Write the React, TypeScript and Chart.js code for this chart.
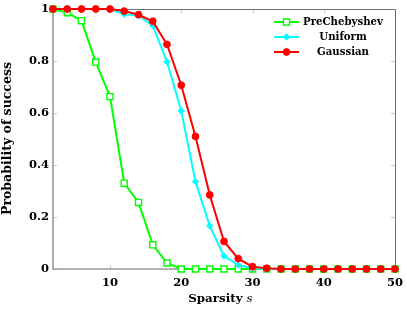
import React, { useEffect, useRef } from "react";
import { Chart, registerables } from "chart.js";

Chart.register(...registerables);

const sparsity = [2, 4, 6, 8, 10, 12, 14, 16, 18, 20, 22, 24, 26, 28, 30, 32, 34, 36, 38, 40, 42, 44, 46, 48, 50];
const preChebyshev = [1, 0.986, 0.955, 0.796, 0.663, 0.33, 0.256, 0.093, 0.023, 0, 0, 0, 0, 0, 0, 0, 0, 0, 0, 0, 0, 0, 0, 0, 0];
const uniform = [1, 1, 1, 1, 1, 0.98, 0.975, 0.936, 0.797, 0.608, 0.336, 0.166, 0.05, 0.015, 0.003, 0, 0, 0, 0, 0, 0, 0, 0, 0, 0];
const gaussian = [1, 1, 1, 1, 1, 0.992, 0.978, 0.953, 0.864, 0.707, 0.51, 0.285, 0.106, 0.04, 0.009, 0.003, 0, 0, 0, 0, 0, 0, 0, 0, 0];
const xTicks = [10, 20, 30, 40, 50];
const yTicks = [0, 0.2, 0.4, 0.6, 0.8, 1];
const yTickLabels = ["0", "0.2", "0.4", "0.6", "0.8", "1"];
const seriesNames = ["PreChebyshev", "Uniform", "Gaussian"];
const seriesColors = ["#00ff00", "#00ffff", "#ff0000"];

const SERIF = "'DejaVu Serif', serif";

function drawMarker(ctx: CanvasRenderingContext2D, style: string, r: number, x: number, y: number) {
  ctx.beginPath();
  if (style === "rect") {
    const s = Math.SQRT1_2 * r;
    ctx.rect(x - s, y - s, 2 * s, 2 * s);
  } else if (style === "rectRot") {
    ctx.moveTo(x, y - r);
    ctx.lineTo(x + r, y);
    ctx.lineTo(x, y + r);
    ctx.lineTo(x - r, y);
    ctx.closePath();
  } else {
    ctx.arc(x, y, r, 0, Math.PI * 2);
  }
  ctx.fill();
  ctx.stroke();
}

// choose a font size so that `text` is `target` px wide (clamped)
function fitSize(ctx: CanvasRenderingContext2D, text: string, target: number, style: string, min: number, max: number) {
  ctx.font = `${style} 10px ${SERIF}`;
  const w = ctx.measureText(text).width || 1;
  return Math.max(min, Math.min(max, (10 * target) / w));
}

const framePlugin = {
  id: "frame",
  beforeDatasetsDraw(chart: any) {
    const { ctx, chartArea: a, scales } = chart;
    ctx.save();
    ctx.strokeStyle = "#c8c8c8";
    ctx.lineWidth = 1;
    for (const v of xTicks) {
      const x = Math.round(scales.x.getPixelForValue(v)) + 0.5;
      ctx.beginPath();
      ctx.moveTo(x, a.bottom); ctx.lineTo(x, a.bottom - 4);
      ctx.moveTo(x, a.top); ctx.lineTo(x, a.top + 4);
      ctx.stroke();
    }
    for (const v of yTicks) {
      const y = Math.round(scales.y.getPixelForValue(v)) + 0.5;
      ctx.beginPath();
      ctx.moveTo(a.left, y); ctx.lineTo(a.left + 4, y);
      ctx.moveTo(a.right, y); ctx.lineTo(a.right - 4, y);
      ctx.stroke();
    }
    ctx.strokeStyle = "#6e6e6e";
    ctx.lineWidth = 1;
    ctx.beginPath();
    ctx.moveTo(a.left, a.top + 0.5); ctx.lineTo(a.right + 0.5, a.top + 0.5); ctx.lineTo(a.right + 0.5, a.bottom);
    ctx.stroke();
    ctx.strokeStyle = "#9a9a9a";
    ctx.lineWidth = 1.6;
    ctx.beginPath();
    ctx.moveTo(a.left, a.top); ctx.lineTo(a.left, a.bottom); ctx.lineTo(a.right + 1, a.bottom);
    ctx.stroke();
    ctx.restore();
  },
};

const textPlugin = {
  id: "texts",
  afterDraw(chart: any) {
    const { ctx } = chart;
    ctx.save();
    ctx.fillStyle = "#000";
    ctx.textBaseline = "alphabetic";
    ctx.textAlign = "left";

    // x title
    const xs = fitSize(ctx, "Sparsity s", 65, "bold", 10, 13);
    const boldFont = `bold ${xs}px ${SERIF}`;
    const italFont = `italic ${xs}px ${SERIF}`;
    ctx.font = boldFont;
    const t1 = "Sparsity ";
    const w1 = ctx.measureText(t1).width;
    ctx.font = italFont;
    const w2 = ctx.measureText("s").width;
    const x0 = 220.5 - (w1 + w2) / 2;
    ctx.font = boldFont;
    ctx.fillText(t1, x0, 302);
    ctx.font = italFont;
    ctx.fillText("s", x0 + w1, 302);

    // y title
    const ys = fitSize(ctx, "Probability of success", 153, "bold", 10, 13);
    ctx.save();
    ctx.translate(11, 138.5);
    ctx.rotate(-Math.PI / 2);
    ctx.textAlign = "center";
    ctx.textBaseline = "alphabetic";
    ctx.font = `bold ${ys}px ${SERIF}`;
    ctx.fillText("Probability of success", 0, 0);
    ctx.restore();

    // legend
    const ls = fitSize(ctx, seriesNames[0], 80, "bold", 8, 11);
    const rows = [22, 37, 52];
    const styles = ["rect", "rectRot", "circle"];
    for (let i = 0; i < 3; i++) {
      const y = rows[i];
      ctx.strokeStyle = seriesColors[i];
      ctx.lineWidth = 2;
      ctx.beginPath();
      ctx.moveTo(274, y); ctx.lineTo(299, y);
      ctx.stroke();
      const ds = chart.data.datasets[i];
      ctx.fillStyle = ds.pointBackgroundColor;
      ctx.strokeStyle = seriesColors[i];
      ctx.lineWidth = ds.pointBorderWidth;
      drawMarker(ctx, styles[i], ds.pointRadius, 286.5, y);
      ctx.fillStyle = "#000";
      ctx.font = `bold ${ls}px ${SERIF}`;
      ctx.textAlign = "center";
      ctx.textBaseline = "middle";
      ctx.fillText(seriesNames[i], 343, y + 0.5);
    }
    ctx.restore();
  },
};

export default function App() {
  const ref = useRef<HTMLCanvasElement | null>(null);
  useEffect(() => {
    const pts = (vals: number[]) => sparsity.map((x, i) => ({ x, y: vals[i] }));
    const chart = new Chart(ref.current as HTMLCanvasElement, {
      type: "line",
      data: {
        datasets: [
          {
            label: seriesNames[0],
            data: pts(preChebyshev),
            borderColor: seriesColors[0],
            borderWidth: 2,
            pointStyle: "rect",
            pointRadius: 4.3,
            pointBackgroundColor: "#ffffff",
            pointBorderColor: seriesColors[0],
            pointBorderWidth: 1.4,
            order: 3,
            clip: false,
          } as any,
          {
            label: seriesNames[1],
            data: pts(uniform),
            borderColor: seriesColors[1],
            borderWidth: 2,
            pointStyle: "rectRot",
            pointRadius: 3.2,
            pointBackgroundColor: seriesColors[1],
            pointBorderColor: seriesColors[1],
            pointBorderWidth: 1,
            order: 2,
            clip: false,
          },
          {
            label: seriesNames[2],
            data: pts(gaussian),
            borderColor: seriesColors[2],
            borderWidth: 2,
            pointStyle: "circle",
            pointRadius: 3.4,
            pointBackgroundColor: seriesColors[2],
            pointBorderColor: seriesColors[2],
            pointBorderWidth: 1,
            order: 1,
            clip: false,
          },
        ],
      },
      options: {
        responsive: false,
        animation: false,
        devicePixelRatio: 1,
        layout: { padding: { top: 9, right: 12, left: 0, bottom: 0 } },
        plugins: { legend: { display: false }, tooltip: { enabled: false } },
        elements: { line: { tension: 0 } },
        scales: {
          x: {
            type: "linear",
            min: 2,
            max: 50,
            grid: { display: false, drawTicks: false },
            border: { display: false },
            afterBuildTicks: (s: any) => {
              s.ticks = xTicks.map((v) => ({ value: v }));
            },
            afterFit: (s: any) => {
              s.height = 42;
              s.paddingLeft = 0;
              s.paddingRight = 0;
            },
            ticks: {
              color: "#000",
              padding: 7,
              maxRotation: 0,
              autoSkip: false,
              font: { family: SERIF, size: 11.5, weight: "bold" },
            },
          },
          y: {
            type: "linear",
            min: 0,
            max: 1,
            grid: { display: false, drawTicks: false },
            border: { display: false },
            afterBuildTicks: (s: any) => {
              s.ticks = yTicks.map((v) => ({ value: v }));
            },
            afterFit: (s: any) => {
              s.width = 53;
              s.paddingTop = 0;
              s.paddingBottom = 0;
            },
            ticks: {
              color: "#000",
              padding: 4,
              autoSkip: false,
              callback: (v: any) => {
                const i = yTicks.findIndex((t) => Math.abs(t - Number(v)) < 1e-6);
                return i >= 0 ? yTickLabels[i] : "";
              },
              font: { family: SERIF, size: 11.5, weight: "bold" },
            },
          },
        },
      },
      plugins: [framePlugin, textPlugin],
    });
    return () => chart.destroy();
  }, []);
  return (
    <div style={{ position: "fixed", left: 0, top: 0, width: 407, height: 311, background: "#fff" }}>
      <canvas ref={ref} width={407} height={311} style={{ display: "block" }} />
    </div>
  );
}
